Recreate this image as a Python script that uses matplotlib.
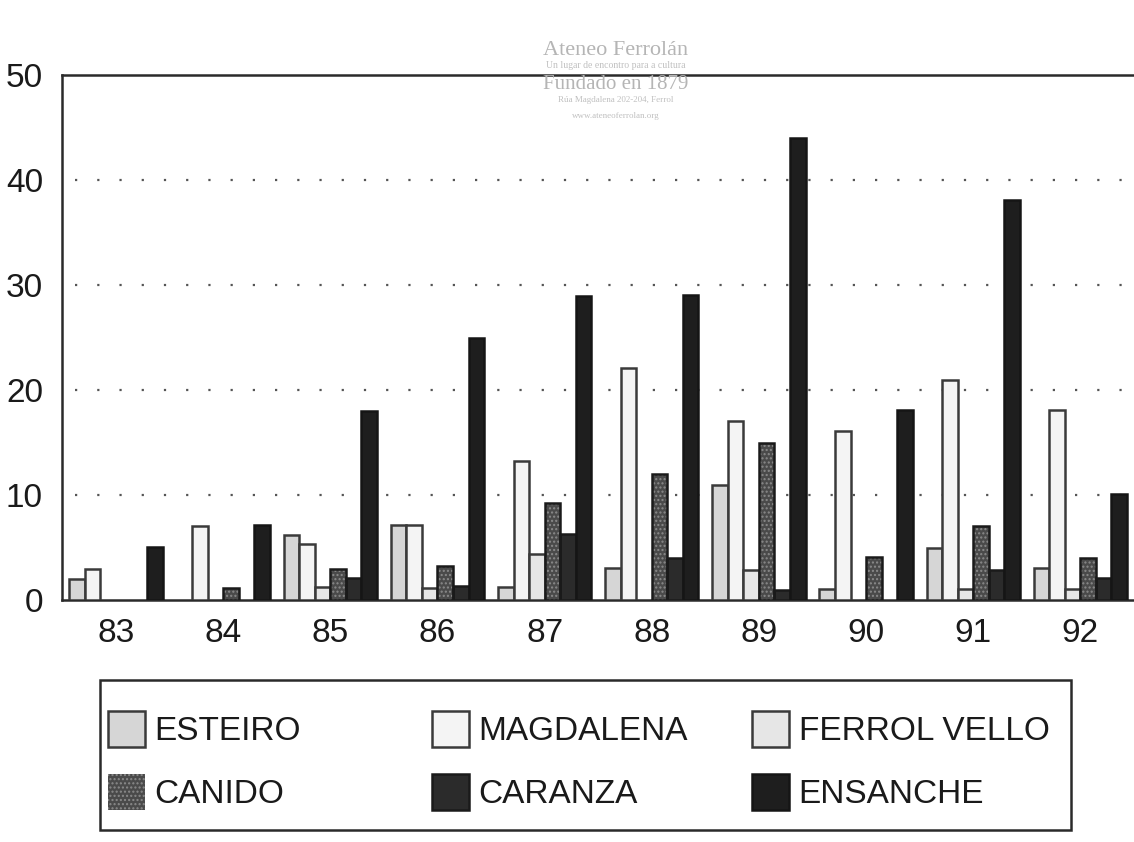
import matplotlib
matplotlib.use("Agg")
import matplotlib.pyplot as plt
from matplotlib.patches import Rectangle
import numpy as np

plt.rcParams['font.family'] = ['Liberation Sans', 'DejaVu Sans']

years = ['83', '84', '85', '86', '87', '88', '89', '90', '91', '92']
series = ['ESTEIRO', 'MAGDALENA', 'FERROL VELLO', 'CANIDO', 'CARANZA', 'ENSANCHE']

esteiro = [2.0, 0, 6.2, 7.2, 1.3, 3.1, 11.0, 1.1, 5.0, 3.1]
magdalena = [3.0, 7.1, 5.4, 7.2, 13.3, 22.1, 17.1, 16.1, 21.0, 18.1]
ferrol_vello = [0, 0, 1.3, 1.2, 4.4, 0, 2.9, 0, 1.1, 1.1]
canido = [0, 1.2, 3.0, 3.3, 9.3, 12.0, 15.0, 4.1, 7.1, 4.0]
caranza = [0, 0, 2.1, 1.4, 6.3, 4.0, 1.0, 0, 2.9, 2.1]
ensanche = [5.1, 7.2, 18.0, 25.0, 29.0, 29.1, 44.0, 18.1, 38.1, 10.1]

valores = [esteiro, magdalena, ferrol_vello, canido, caranza, ensanche]
caras = ['#d6d6d6', '#f4f4f4', '#e6e6e6', '#4a4a4a', '#2b2b2b', '#1e1e1e']
bordes = ['#3a3a3a', '#3a3a3a', '#3a3a3a', '#1a1a1a', '#1a1a1a', '#151515']

fig = plt.figure(figsize=(11.34, 8.42), dpi=100)
ax = fig.add_axes([0.055, 0.287, 0.945, 0.624])

x = np.arange(len(years))
w = 0.145
handles = {}
for i, (nombre, v) in enumerate(zip(series, valores)):
    pos = x + (i - 2.5) * w
    vv = np.array(v, dtype=float)
    mask = vv > 0
    if nombre == 'CANIDO':
        b = ax.bar(pos[mask], vv[mask], w, color=caras[i], hatch='....',
                   edgecolor='#8a8a8a', linewidth=0, zorder=3)
        ax.bar(pos[mask], vv[mask], w, fill=False, edgecolor=bordes[i],
               linewidth=1.8, zorder=4)
    else:
        b = ax.bar(pos[mask], vv[mask], w, color=caras[i], edgecolor=bordes[i],
                   linewidth=1.8, zorder=3)
    handles[nombre] = b

ax.set_xlim(-0.5, 9.5)
ax.set_ylim(0, 50)
ax.set_yticks([0, 10, 20, 30, 40, 50])
ax.set_xticks(x)
ax.set_xticklabels(years)
ax.tick_params(axis='both', length=0, labelsize=24, colors='#1a1a1a')
ax.tick_params(axis='y', pad=14)
ax.tick_params(axis='x', pad=13)

for g in [10, 20, 30, 40]:
    ax.axhline(g, xmin=0.012, color='#555555', linestyle=(0, (1, 9)),
               linewidth=1.6, zorder=1)

for s in ['left', 'bottom', 'top']:
    ax.spines[s].set_linewidth(1.8)
    ax.spines[s].set_color('#2a2a2a')
ax.spines['right'].set_visible(False)

# marca de agua del escaneo
fig.text(0.543, 0.94, 'Ateneo Ferrolán', ha='center', va='center',
         family='Liberation Serif', fontsize=16, color='#b5b5b5')
fig.text(0.543, 0.922, 'Un lugar de encontro para a cultura', ha='center',
         va='center', family='Liberation Serif', fontsize=7, color='#c0c0c0')
fig.text(0.543, 0.900, 'Fundado en 1879', ha='center', va='center',
         family='Liberation Serif', fontsize=15, color='#b5b5b5')
fig.text(0.543, 0.881, 'Rúa Magdalena 202-204, Ferrol', ha='center',
         va='center', family='Liberation Serif', fontsize=6.5, color='#c0c0c0')
fig.text(0.543, 0.862, 'www.ateneoferrolan.org', ha='center', va='center',
         family='Liberation Serif', fontsize=6.5, color='#c0c0c0')

# leyenda: marco y tres columnas
fig.patches.append(Rectangle((0.0882, 0.0143), 0.8562, 0.178,
                             transform=fig.transFigure, fill=False,
                             edgecolor='#2a2a2a', linewidth=1.8))
columnas = [['ESTEIRO', 'CANIDO'], ['MAGDALENA', 'CARANZA'],
            ['FERROL VELLO', 'ENSANCHE']]
xcol = [0.0952, 0.381, 0.663]
for cx, par in zip(xcol, columnas):
    leg = fig.legend([handles[n] for n in par], par, loc='center left',
                     bbox_to_anchor=(cx, 0.097), fontsize=24,
                     handlelength=1.1, handleheight=1.28, handletextpad=0.3,
                     labelspacing=0.8, frameon=False, borderpad=0,
                     borderaxespad=0)
    for t in leg.get_texts():
        t.set_color('#1a1a1a')

fig.savefig('out.png', dpi=100)
